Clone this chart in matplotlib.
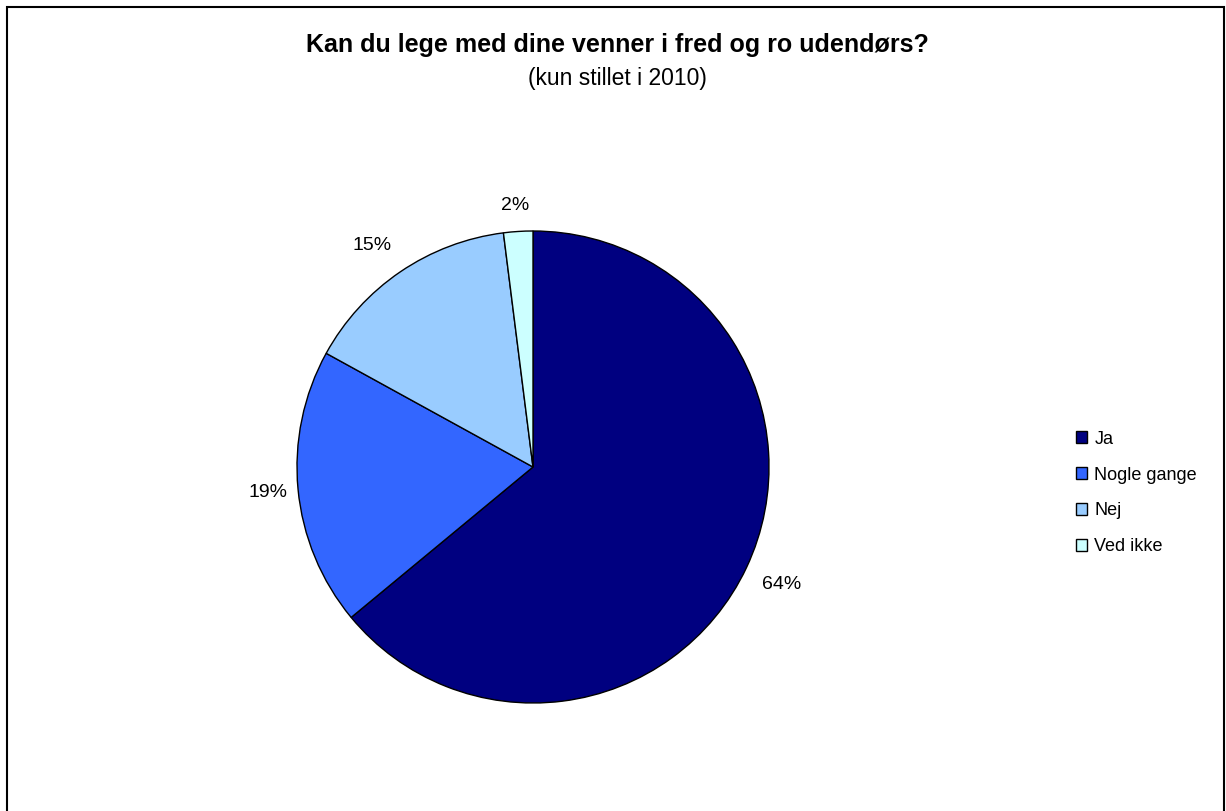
import matplotlib
matplotlib.use("Agg")
import matplotlib.pyplot as plt
import numpy as np
from matplotlib.patches import Rectangle

categories = ["Ja", "Nogle gange", "Nej", "Ved ikke"]
values = [64, 19, 15, 2]
labels = ["64%", "19%", "15%", "2%"]
colors = ["#000080", "#3366FF", "#99CCFF", "#CCFFFF"]

plt.rcParams['font.family'] = ['Liberation Sans', 'DejaVu Sans']

fig = plt.figure(figsize=(12.26, 8.11), dpi=100)
W, H = 1226, 811

# border
fig.patches.append(Rectangle((7/W, -0.01), (1224-7)/W, 1 - 7/H + 0.01, transform=fig.transFigure,
                             fill=False, edgecolor="black", linewidth=1.5))

cx, cy, r = 533, 467, 236
ax = fig.add_axes([(cx - r) / W, 1 - (cy + r) / H, 2 * r / W, 2 * r / H])
wedges, _ = ax.pie(values, colors=colors, startangle=90, counterclock=False,
                   wedgeprops=dict(edgecolor="black", linewidth=1.0), radius=1.0)
ax.set_xlim(-1, 1)
ax.set_ylim(-1, 1)
ax.set_aspect("equal")
ax.axis("off")

dists = [1.165, 1.13, 1.16, 1.11]
ang_off = [0.0, 0.0, 1.7, 0.3]
for w, lab, d, da in zip(wedges, labels, dists, ang_off):
    ang = np.deg2rad((w.theta1 + w.theta2) / 2 + da)
    ax.text(d * np.cos(ang), d * np.sin(ang), lab, ha="center", va="center",
            fontsize=14, clip_on=False)

fig.text(617 / W, 1 - 45 / H, "Kan du lege med dine venner i fred og ro udendørs?",
         ha="center", va="center", fontsize=18, fontweight="bold")
fig.text(617 / W, 1 - 78 / H, "(kun stillet i 2010)", ha="center", va="center", fontsize=16.5)

handles = [Rectangle((0, 0), 1, 1, facecolor=c, edgecolor="black", linewidth=1.0) for c in colors]
leg = fig.legend(handles, categories, loc="center left", bbox_to_anchor=(1069 / W, 1 - 493 / H),
                 frameon=False, fontsize=13, handlelength=0.6, handleheight=0.6,
                 handletextpad=0.4, labelspacing=1.05, borderaxespad=0)

fig.savefig("out.png", dpi=100)
